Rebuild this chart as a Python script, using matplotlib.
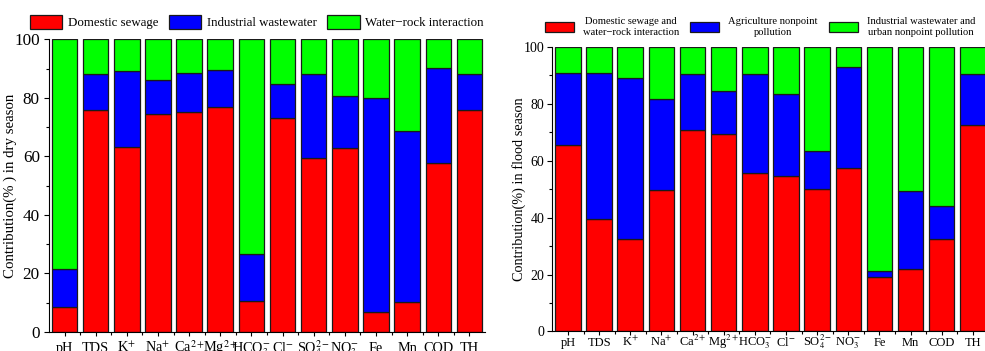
import numpy as np
import matplotlib
matplotlib.use("Agg")
import matplotlib.pyplot as plt
from matplotlib.ticker import MultipleLocator

plt.rcParams['font.family'] = ['Liberation Serif', 'DejaVu Serif']
plt.rcParams['mathtext.fontset'] = 'stix'

labels = ['pH', 'TDS', r'K$^{+}$', r'Na$^{+}$', r'Ca$^{2+}$', r'Mg$^{2+}$', r'HCO$_3^{-}$',
          r'Cl$^{-}$', r'SO$_4^{2-}$', r'NO$_3^{-}$', 'Fe', 'Mn', 'COD', 'TH']

# dry season (%)
dry_domestic = [8.5, 76.0, 63.2, 74.5, 75.2, 76.8, 10.5, 73.2, 59.4, 62.9, 6.8, 10.2, 57.7, 75.8]
dry_industrial = [13.1, 12.3, 26.0, 11.5, 13.3, 12.8, 16.0, 11.5, 28.6, 17.7, 73.2, 58.3, 32.6, 12.5]
dry_waterrock = [78.4, 11.7, 10.8, 14.0, 11.5, 10.4, 73.5, 15.3, 12.0, 19.4, 20.0, 31.5, 9.7, 11.7]

# flood season (%)
flood_domestic = [65.6, 39.6, 32.6, 49.6, 70.6, 69.5, 55.8, 54.6, 50.0, 57.4, 19.0, 22.0, 32.6, 72.6]
flood_agri = [25.3, 51.1, 56.4, 32.2, 19.7, 14.9, 34.5, 28.8, 13.4, 35.6, 2.4, 27.5, 11.6, 17.7]
flood_industrial = [9.1, 9.3, 11.0, 18.2, 9.7, 15.6, 9.7, 16.6, 36.6, 7.0, 78.6, 50.5, 55.8, 9.7]

colors = ['#ff0000', '#0000ff', '#00ff00']
x = np.arange(len(labels))
w = 0.82

fig = plt.figure(figsize=(9.85, 3.51), dpi=100)
ax1 = fig.add_axes([0.0497, 0.0541, 0.4427, 0.834])
ax2 = fig.add_axes([0.5608, 0.0556, 0.4427, 0.8114])


def stack(ax, series, names, xfs, yfs, xpad, ypad):
    bottom = np.zeros(len(x))
    for vals, c, n in zip(series, colors, names):
        vals = np.array(vals)
        ax.bar(x, vals, w, bottom=bottom, color=c, edgecolor='#1a1a1a',
               linewidth=0.9, label=n)
        bottom = bottom + vals
    ax.set_xlim(-0.5, 13.5)
    ax.set_ylim(0, 100)
    ax.set_xticks(x)
    ax.set_xticklabels(labels, fontsize=xfs, va='baseline')
    ax.set_xticks(x[:-1] + 0.5, minor=True)
    ax.yaxis.set_major_locator(MultipleLocator(20))
    ax.yaxis.set_minor_locator(MultipleLocator(10))
    ax.tick_params(axis='x', which='major', direction='out', length=3, width=0.8, pad=xpad)
    ax.tick_params(axis='y', which='major', direction='out', length=3.6, width=0.8,
                   pad=ypad, labelsize=yfs)
    ax.tick_params(axis='both', which='minor', direction='out', length=2.2, width=0.8)
    for s in ['top', 'right']:
        ax.spines[s].set_visible(False)


stack(ax1, [dry_domestic, dry_industrial, dry_waterrock],
      ['Domestic sewage', 'Industrial wastewater', 'Water\u2212rock interaction'],
      10.3, 12.3, 11.5, 3)
ax1.set_ylabel('Contribution(% ) in dry season', fontsize=10.7)
ax1.yaxis.set_label_coords(-0.073, 0.5)
ax1.legend(loc='center left', bbox_to_anchor=(30 / 985, 1 - 22 / 351),
           bbox_transform=fig.transFigure, ncol=3, frameon=False,
           fontsize=9.3, handlelength=2.5, handleheight=1.25, columnspacing=0.8,
           handletextpad=0.45, borderpad=0, borderaxespad=0)

stack(ax2, [flood_domestic, flood_agri, flood_industrial],
      ['Domestic sewage and\nwater\u2212rock interaction', 'Agriculture nonpoint\npollution',
       'Industrial wastewater and\nurban nonpoint pollution'],
      9, 10, 7.2, 2)
ax2.set_ylabel('Contribution(%) in flood season', fontsize=10.3)
ax2.yaxis.set_label_coords(-0.061, 0.5)
leg = ax2.legend(loc='center left', bbox_to_anchor=(545 / 985, 1 - 27 / 351),
                 bbox_transform=fig.transFigure, ncol=3, frameon=False,
                 fontsize=7.6, handlelength=2.75, handleheight=1.0, columnspacing=1.05,
                 handletextpad=0.85, borderpad=0, borderaxespad=0)
for t in leg.get_texts():
    t.set_multialignment('center')
    t.set_linespacing(1.3)

fig.savefig('out.png', dpi=100)
